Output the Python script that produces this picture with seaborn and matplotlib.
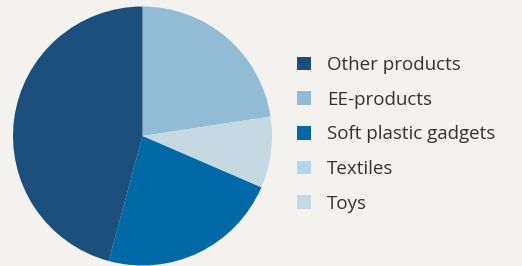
import matplotlib
matplotlib.use("Agg")
import matplotlib.pyplot as plt
from matplotlib.patches import Patch
import seaborn as sns

# share of products (%), legend order
categories = ["Other products", "EE-products", "Soft plastic gadgets", "Textiles", "Toys"]
shares = [45.8, 22.6, 22.7, 0.0, 8.9]
colors = ["#1d4f7c", "#92bcd5", "#0069a6", "#b0d6ef", "#c5d9e3"]

# wedges clockwise from 12 o'clock
pie_order = ["EE-products", "Textiles", "Toys", "Soft plastic gadgets", "Other products"]

sns.set_theme(style="white")
plt.rcParams["font.family"] = ["Open Sans", "DejaVu Sans"]
bg = "#f4f2ee"

fig = plt.figure(figsize=(5.22, 2.66), dpi=100, facecolor=bg)
ax = fig.add_axes([13 / 522, 0.5 / 266, 259 / 522, 259 / 266])
ax.set_facecolor(bg)

idx = [categories.index(c) for c in pie_order]
ax.pie([shares[i] for i in idx], colors=[colors[i] for i in idx],
       startangle=90, counterclock=False, radius=1,
       wedgeprops={"linewidth": 0})
ax.set_xlim(-1, 1)
ax.set_ylim(-1, 1)
ax.set_aspect("equal")
ax.axis("off")

handles = [Patch(facecolor=c, edgecolor="none") for c in colors]
fig.legend(handles, categories, loc="upper left",
           bbox_to_anchor=(297 / 522, 1 - 56 / 266),
           frameon=False, fontsize=13.5, labelcolor="#333333",
           handlelength=0.75, handleheight=0.75, handletextpad=0.85,
           labelspacing=0.89, borderpad=0, borderaxespad=0)

fig.savefig("out.png", dpi=100, facecolor=bg)
